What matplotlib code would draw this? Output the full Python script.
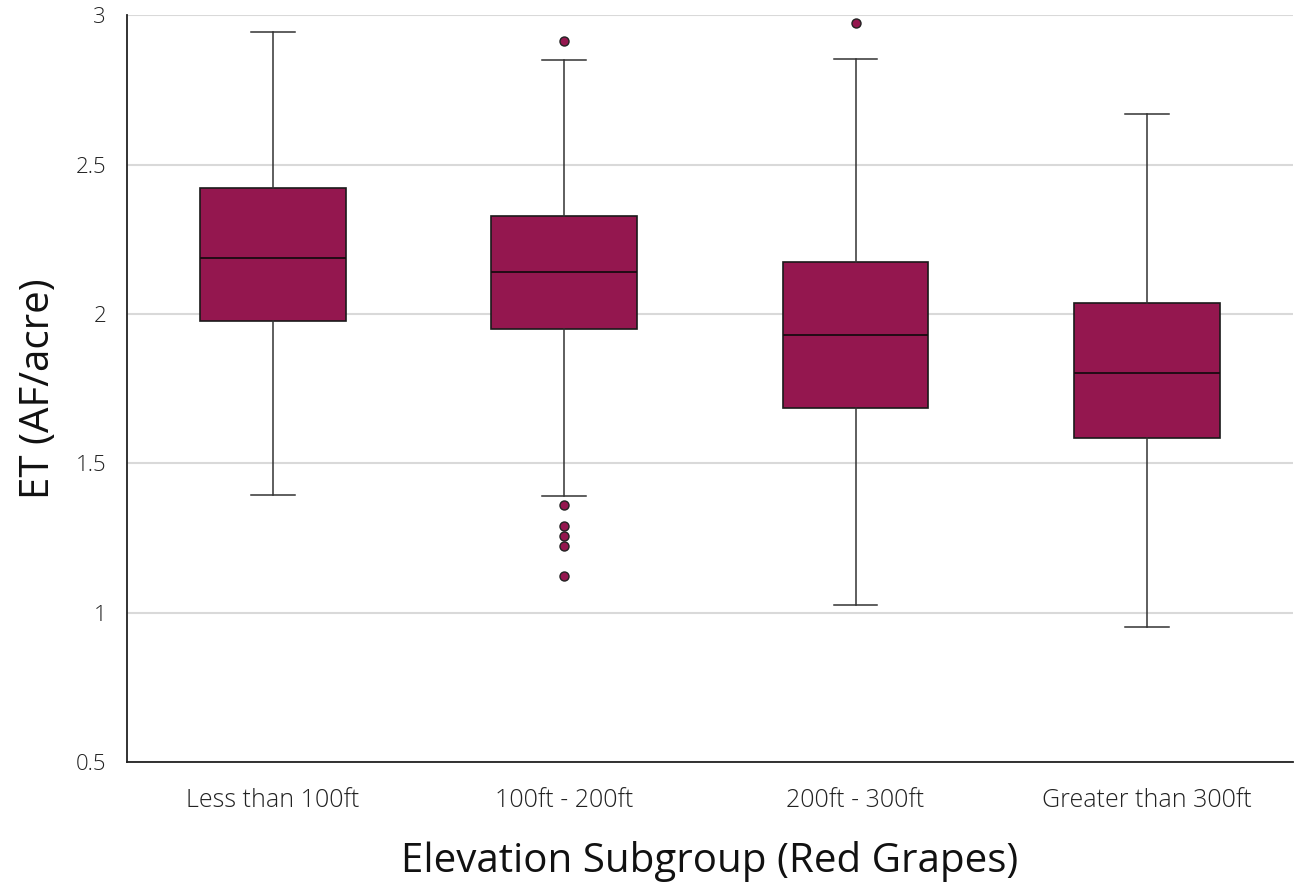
import matplotlib.pyplot as plt

plt.rcParams['font.family'] = ['Open Sans', 'DejaVu Sans']
plt.rcParams['font.weight'] = 'light'

# categories and box statistics
groups = ['Less than 100ft', '100ft - 200ft', '200ft - 300ft', 'Greater than 300ft']
whisker_lo = [1.394, 1.390, 1.025, 0.952]
q1 = [1.976, 1.949, 1.685, 1.584]
median = [2.187, 2.140, 1.929, 1.802]
q3 = [2.421, 2.327, 2.173, 2.036]
whisker_hi = [2.943, 2.849, 2.853, 2.669]
outliers = [
    [],
    [2.913, 1.360, 1.290, 1.256, 1.223, 1.122],
    [2.973],
    [],
]

box_color = '#94174F'

stats = []
for i in range(len(groups)):
    stats.append({
        'label': groups[i],
        'whislo': whisker_lo[i],
        'q1': q1[i],
        'med': median[i],
        'q3': q3[i],
        'whishi': whisker_hi[i],
        'fliers': outliers[i],
    })

fig = plt.figure(figsize=(13.04, 8.83), dpi=100)
ax = fig.add_axes([0.0974, 0.137, 0.894, 0.8456])

ax.bxp(stats, positions=range(len(groups)), widths=0.5, patch_artist=True,
       boxprops=dict(facecolor=box_color, edgecolor='#1a1a1a', linewidth=1.2),
       medianprops=dict(color='#1a0a10', linewidth=1.3),
       whiskerprops=dict(color='#333333', linewidth=1.1),
       capprops=dict(color='#333333', linewidth=1.1),
       capwidths=0.15,
       flierprops=dict(marker='o', markerfacecolor=box_color, markeredgecolor='#222222',
                       markersize=6.5, markeredgewidth=1.0))

ax.set_xlim(-0.5, len(groups) - 0.5)
ax.set_ylim(0.5, 3)
ax.set_yticks([0.5, 1, 1.5, 2, 2.5, 3])
ax.set_yticklabels(['0.5', '1', '1.5', '2', '2.5', '3'])
ax.yaxis.grid(True, color='#d9d9d9', linewidth=1.5)
ax.set_axisbelow(True)
ax.tick_params(axis='both', length=0, colors='#222222')
ax.tick_params(axis='x', pad=19, labelsize=18)
ax.tick_params(axis='y', pad=15, labelsize=16)

for s in ['top', 'right']:
    ax.spines[s].set_visible(False)
for s in ['left', 'bottom']:
    ax.spines[s].set_color('#222222')
    ax.spines[s].set_linewidth(1.3)

ax.set_xlabel('Elevation Subgroup (Red Grapes)', fontsize=29, labelpad=20, color='#111111')
ax.set_ylabel('ET (AF/acre)', fontsize=29, labelpad=12, color='#111111')

fig.savefig('out.png', dpi=100)
